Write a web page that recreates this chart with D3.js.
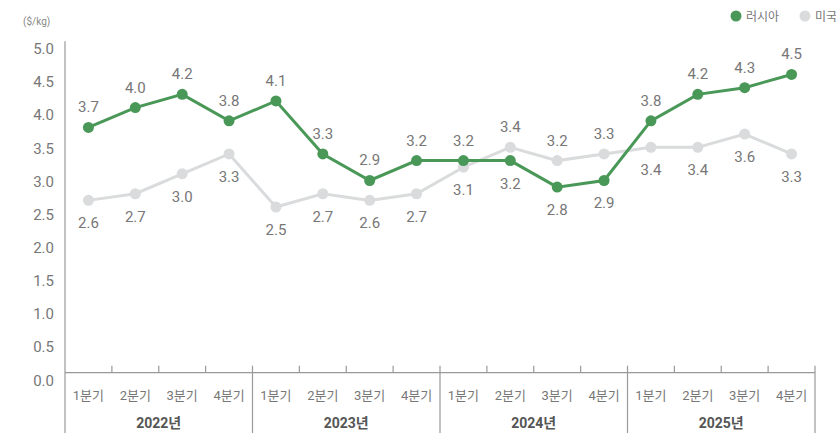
<!DOCTYPE html>
<html>
<head>
<meta charset="utf-8">
<script src="https://cdn.jsdelivr.net/npm/d3@7"></script>
<style>
  html, body { margin: 0; padding: 0; background: #fff; overflow: hidden; }
  svg { display: block; font-family: Roboto, 'Noto Sans CJK KR', sans-serif; }
</style>
</head>
<body>
<svg id="chart" width="836" height="433"></svg>
<script>
// 분기별 가격 ($/kg)
const years = ['2022년', '2023년', '2024년', '2025년']
const quarters = ['1분기', '2분기', '3분기', '4분기']
const russia = [3.7, 4.0, 4.2, 3.8, 4.1, 3.3, 2.9, 3.2, 3.2, 3.2, 2.8, 2.9, 3.8, 4.2, 4.3, 4.5]
const usa = [2.6, 2.7, 3.0, 3.3, 2.5, 2.7, 2.6, 2.7, 3.1, 3.4, 3.2, 3.3, 3.4, 3.4, 3.6, 3.3]
const yTicks = [0, 0.5, 1, 1.5, 2, 2.5, 3, 3.5, 4, 4.5, 5]
const seriesNames = ['러시아', '미국']

const keys = []
years.forEach(y => quarters.forEach(q => keys.push(y + '|' + q)))

const svg = d3.select('#chart')
const H = 433
const margin = { left: 65, right: 815, top: 41.3, bottom: 372.7 }

const x = d3.scaleBand().domain(keys).range([margin.left, margin.right])
const y = d3.scaleLinear().domain([0, 5]).range([margin.bottom, margin.top])
const cx = k => x(k) + x.bandwidth() / 2

// unit
svg.append('text')
    .attr('x', 23).attr('y', 25)
    .attr('font-size', '10px').attr('fill', '#888')
    .text('($/kg)')

// y axis labels
const yAxis = svg.append('g')
    .attr('transform', 'translate(' + margin.left + ',0)')
    .call(d3.axisLeft(y).tickValues(yTicks).tickSize(0).tickPadding(11).tickFormat(d3.format('.1f')))
yAxis.select('.domain').remove()
yAxis.selectAll('text')
    .attr('font-size', '15px').attr('fill', '#777')
    .attr('font-family', 'Roboto, sans-serif')
    .attr('dy', '0.82em')

const axisColor = '#999'

// y axis line (runs down through the category area)
svg.append('line')
    .attr('x1', margin.left).attr('x2', margin.left).attr('y1', margin.top).attr('y2', H)
    .attr('stroke', axisColor).attr('stroke-width', 1.2)

// x axis line
svg.append('line')
    .attr('x1', margin.left).attr('x2', margin.right).attr('y1', margin.bottom).attr('y2', margin.bottom)
    .attr('stroke', axisColor).attr('stroke-width', 1.2)

// ticks between quarters, separators between years
keys.forEach((k, i) => {
    if (i === 0) return
    const xx = x(k)
    svg.append('line')
        .attr('x1', xx).attr('x2', xx)
        .attr('y1', margin.bottom - 7)
        .attr('y2', i % 4 === 0 ? H : margin.bottom)
        .attr('stroke', axisColor).attr('stroke-width', 1.2)
})
svg.append('line')
    .attr('x1', margin.right).attr('x2', margin.right).attr('y1', margin.bottom - 7).attr('y2', H)
    .attr('stroke', axisColor).attr('stroke-width', 1.2)

// quarter labels
svg.append('g').selectAll('text')
    .data(keys)
    .join('text')
    .attr('x', d => cx(d))
    .attr('y', 400)
    .attr('text-anchor', 'middle')
    .attr('font-size', '13px').attr('fill', '#777')
    .text(d => d.split('|')[1])

// year labels
svg.append('g').selectAll('text')
    .data(years)
    .join('text')
    .attr('x', d => (x(d + '|' + quarters[0]) + x(d + '|' + quarters[3]) + x.bandwidth()) / 2)
    .attr('y', 428)
    .attr('text-anchor', 'middle')
    .attr('font-size', '14px').attr('font-weight', 'bold').attr('fill', '#555')
    .text(d => d)

const green = '#4a9858'
const grey = '#d9dbdc'

const series = [
    { name: seriesNames[0], values: russia, other: usa, color: green },
    { name: seriesNames[1], values: usa, other: russia, color: grey }
]

const line = d3.line()
    .x((d, i) => cx(keys[i]))
    .y(d => y(d))

// grey first so green sits on top
series.slice().reverse().forEach(s => {
    svg.append('path')
        .datum(s.values)
        .attr('fill', 'none')
        .attr('stroke', s.color)
        .attr('stroke-width', 3)
        .attr('d', line)

    svg.append('g').selectAll('circle')
        .data(s.values)
        .join('circle')
        .attr('cx', (d, i) => cx(keys[i]))
        .attr('cy', d => y(d))
        .attr('r', 5.5)
        .attr('fill', s.color)
})

// value labels: higher series above, lower series below
series.forEach(s => {
    svg.append('g').selectAll('text')
        .data(s.values)
        .join('text')
        .attr('x', (d, i) => cx(keys[i]))
        .attr('y', (d, i) => {
            const above = d >= s.other[i]
            return y(d) + (above ? -15 : 28)
        })
        .attr('text-anchor', 'middle')
        .attr('font-size', '15px').attr('fill', '#777')
        .text(d => d.toFixed(1))
})

// legend
const legend = svg.append('g')
series.forEach((s, i) => {
    const lx = 736 + i * 69
    legend.append('circle').attr('cx', lx).attr('cy', 16).attr('r', 5.5).attr('fill', s.color)
    legend.append('text')
        .attr('x', lx + 10).attr('y', 20.5)
        .attr('font-size', '12px').attr('fill', '#777')
        .text(s.name)
})
</script>
</body>
</html>
